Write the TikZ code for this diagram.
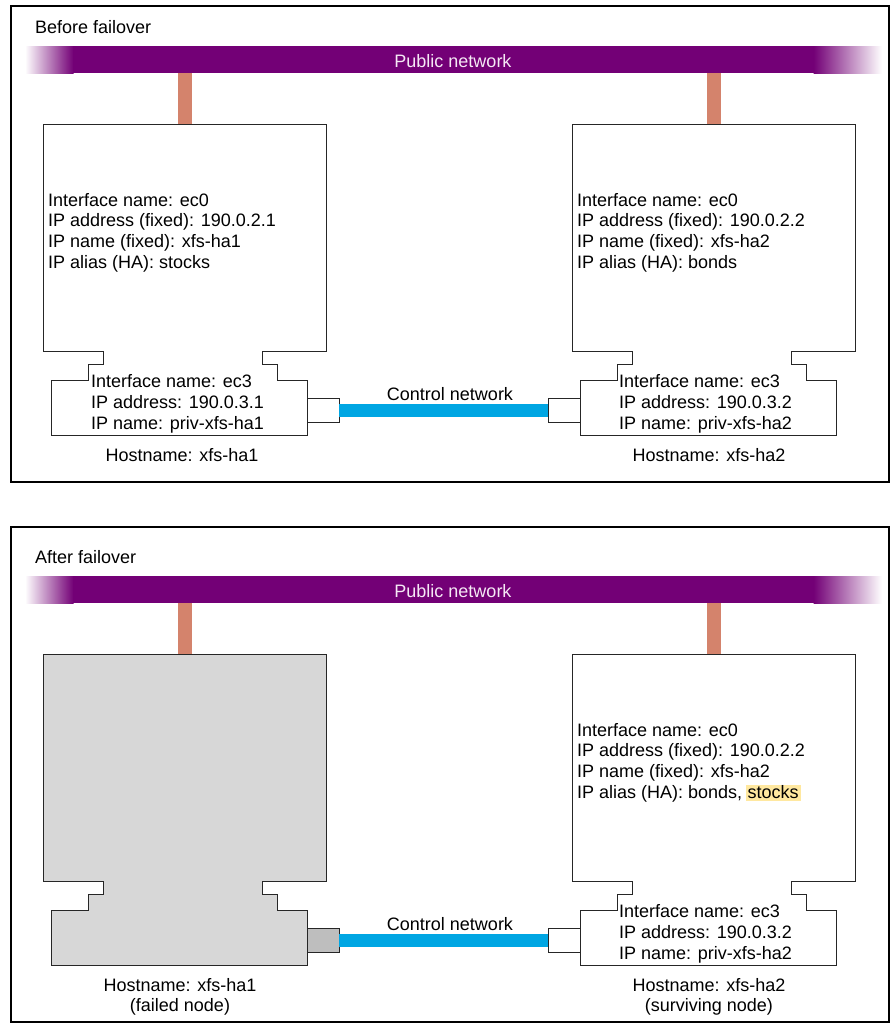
\documentclass[tikz,border=0pt]{standalone}
\usepackage{fontspec}
\setmainfont{Liberation Sans}
\definecolor{pub}{RGB}{115,0,118}
\definecolor{stubc}{RGB}{212,131,108}
\definecolor{ctlc}{RGB}{0,166,227}
\definecolor{hlc}{RGB}{255,232,160}
\definecolor{failc}{RGB}{215,215,215}
\definecolor{failport}{RGB}{190,190,190}
\definecolor{pubtext}{RGB}{245,232,245}
\tikzset{
  frame/.style={draw=black, line width=2.2pt},
  hostline/.style={draw=black!85, line width=1pt, line join=miter},
  txt/.style={anchor=base west, inner sep=0pt, font=\fontsize{18}{21}\selectfont},
  ctxt/.style={anchor=base, inner sep=0pt, font=\fontsize{18}{21}\selectfont},
  stub/.style={draw=stubc, line width=14pt},
  ctl/.style={draw=ctlc, line width=13pt},
  port/.style={draw=black!85, line width=1pt, fill=white, minimum width=32pt, minimum height=24pt, inner sep=0pt, outer sep=0pt},
  barnode/.style={fill=pub, minimum width=741pt, minimum height=27pt, inner sep=0pt, outer sep=0pt},
  hl/.style={fill=hlc, inner xsep=2pt, inner ysep=1.5pt, text height=12pt, text depth=1pt, anchor=base west, font=\fontsize{18}{21}\selectfont}
}
\newcommand\hostpath[3]{%
  \filldraw[hostline, fill=#3] (#1,#2) -- ++(283,0) -- ++(0,227) -- ++(-64,0) -- ++(0,13) -- ++(15,0) -- ++(0,16) -- ++(30,0) -- ++(0,55) -- ++(-256,0) -- ++(0,-55) -- ++(37,0) -- ++(0,-16) -- ++(15,0) -- ++(0,-13) -- ++(-60,0) -- cycle;}
\begin{document}
\begin{tikzpicture}[x=1pt, y=-1pt]
\useasboundingbox (0,0) rectangle (890,1029);
% ================= Before failover =================
\draw[frame] (11.3,6) rectangle (888.9,482);
\node[txt] (t1) at (35,33) {Before failover};
\shade[left color=white, right color=pub] (25,46) rectangle (73.5,73);
\shade[left color=pub, right color=white] (813.5,46) rectangle (882,73);
\node[barnode] (bar1) at (443.5,59.5) {};
\node[ctxt, text=pubtext] (pub1) at (453,67) {Public network};
\coordinate (h1top) at (185,124);
\coordinate (h2top) at (714,124);
\draw[stub] (bar1.south -| h1top) -- (h1top);
\draw[stub] (bar1.south -| h2top) -- (h2top);
\hostpath{43}{124}{white}
\hostpath{572}{124}{white}
\node[port] (p1) at (323,410) {};
\node[port] (p2) at (564,410) {};
\draw[ctl] (p1.east) -- (p2.west);
\node[ctxt] (c1) at (450,400) {Control network};
% left host text
\node[txt] (a1) at (48,206) {Interface name: ec0};
\node[txt] (a2) at (48,226.7) {IP address (fixed): 190.0.2.1};
\node[txt] (a3) at (48,247.4) {IP name (fixed): xfs-ha1};
\node[txt] (a4) at (48,268) {IP alias (HA): stocks};
\node[txt] (a5) at (91,387) {Interface name: ec3};
\node[txt] (a6) at (91,408) {IP address: 190.0.3.1};
\node[txt] (a7) at (91,429) {IP name: priv-xfs-ha1};
\node[ctxt] (a8) at (182,461) {Hostname: xfs-ha1};
% right host text
\node[txt] (b1) at (577,206) {Interface name: ec0};
\node[txt] (b2) at (577,226.7) {IP address (fixed): 190.0.2.2};
\node[txt] (b3) at (577,247.4) {IP name (fixed): xfs-ha2};
\node[txt] (b4) at (577,268) {IP alias (HA): bonds};
\node[txt] (b5) at (619,387) {Interface name: ec3};
\node[txt] (b6) at (619,408) {IP address: 190.0.3.2};
\node[txt] (b7) at (619,429) {IP name: priv-xfs-ha2};
\node[ctxt] (b8) at (709,461) {Hostname: xfs-ha2};
% ================= After failover =================
\draw[frame] (11.3,527) rectangle (888.9,1022);
\node[txt] (t2) at (35,563) {After failover};
\shade[left color=white, right color=pub] (25,576) rectangle (73.5,603);
\shade[left color=pub, right color=white] (813.5,576) rectangle (882,603);
\node[barnode] (bar2) at (443.5,589.5) {};
\node[ctxt, text=pubtext] (pub2) at (453,597) {Public network};
\coordinate (h3top) at (185,654);
\coordinate (h4top) at (714,654);
\draw[stub] (bar2.south -| h3top) -- (h3top);
\draw[stub] (bar2.south -| h4top) -- (h4top);
\hostpath{43}{654}{failc}
\hostpath{572}{654}{white}
\node[port, fill=failport] (p3) at (323,940) {};
\node[port] (p4) at (564,940) {};
\draw[ctl] (p3.east) -- (p4.west);
\node[ctxt] (c2) at (450,930) {Control network};
\node[ctxt] (d8) at (180,991) {Hostname: xfs-ha1};
\node[ctxt] (d9) at (180,1011) {(failed node)};
\node[txt] (e1) at (577,736) {Interface name: ec0};
\node[txt] (e2) at (577,756.7) {IP address (fixed): 190.0.2.2};
\node[txt] (e3) at (577,777.4) {IP name (fixed): xfs-ha2};
\node[txt] (e4) at (577,798) {IP alias (HA): bonds,};
\node[hl] (e4s) at ([xshift=3pt]e4.base east) {stocks};
\node[txt] (e5) at (619,917) {Interface name: ec3};
\node[txt] (e6) at (619,938) {IP address: 190.0.3.2};
\node[txt] (e7) at (619,959) {IP name: priv-xfs-ha2};
\node[ctxt] (e8) at (709,991) {Hostname: xfs-ha2};
\node[ctxt] (e9) at (709,1011) {(surviving node)};
\end{tikzpicture}
\end{document}
